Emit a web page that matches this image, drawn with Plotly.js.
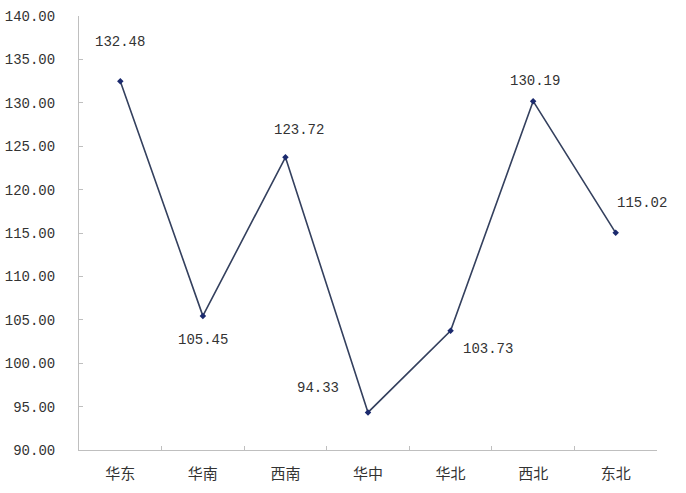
<!DOCTYPE html>
<html>
<head>
<meta charset="utf-8">
<script src="https://cdn.plot.ly/plotly-3.0.1.min.js"></script>
<style>html,body{margin:0;padding:0;background:#fff;}#chart{width:686px;height:493px;}</style>
</head>
<body>
<div id="chart"></div>
<script>
const categories = ["华东", "华南", "西南", "华中", "华北", "西北", "东北"];
const values = [132.48, 105.45, 123.72, 94.33, 103.73, 130.19, 115.02];
const yTickVals = [90, 95, 100, 105, 110, 115, 120, 125, 130, 135, 140];
const yTickText = ["90.00", "95.00", "100.00", "105.00", "110.00", "115.00", "120.00", "125.00", "130.00", "135.00", "140.00"];

// label offsets in pixels (styling, not data)
const labelShiftX = [0, 0, 14, -50, 37, 2, 26];
const labelShiftY = [39, -24, 27, 24, -18, 20, 30];

const fontFam = "'Liberation Mono', 'Noto Sans CJK SC', monospace";
const txtColor = "#333333";

const trace = {
  x: categories,
  y: values,
  type: "scatter",
  mode: "lines+markers",
  line: {color: "#34405e", width: 1.6},
  marker: {symbol: "diamond", size: 5, color: "#1b2a6e"},
  hoverinfo: "skip"
};

const annotations = categories.map((c, i) => ({
  x: c, y: values[i], xref: "x", yref: "y",
  text: values[i].toFixed(2),
  showarrow: false,
  xshift: labelShiftX[i], yshift: labelShiftY[i],
  font: {family: fontFam, size: 14, color: txtColor}
}));

const layout = {
  width: 686, height: 493,
  margin: {l: 79, r: 29, t: 16, b: 43, pad: 0},
  paper_bgcolor: "#ffffff",
  plot_bgcolor: "#ffffff",
  showlegend: false,
  font: {family: fontFam, size: 14, color: txtColor},
  xaxis: {
    type: "category",
    range: [-0.5, 6.5],
    showline: true, linecolor: "#bfbfbf", linewidth: 1,
    showgrid: false, zeroline: false,
    ticks: "inside", ticklen: 4, tickcolor: "#bfbfbf",
    tickson: "boundaries",
    tickfont: {family: "'Noto Sans CJK SC', sans-serif", size: 15, color: txtColor},
    ticklabelstandoff: 10
  },
  yaxis: {
    range: [90, 140],
    tickvals: yTickVals, ticktext: yTickText,
    showline: true, linecolor: "#bfbfbf", linewidth: 1,
    showgrid: false, zeroline: false,
    ticks: "inside", ticklen: 4, tickcolor: "#bfbfbf",
    tickfont: {family: fontFam, size: 14, color: txtColor},
    ticklabelstandoff: 20
  },
  annotations: annotations
};

Plotly.newPlot("chart", [trace], layout, {displayModeBar: false, staticPlot: true});
</script>
</body>
</html>
